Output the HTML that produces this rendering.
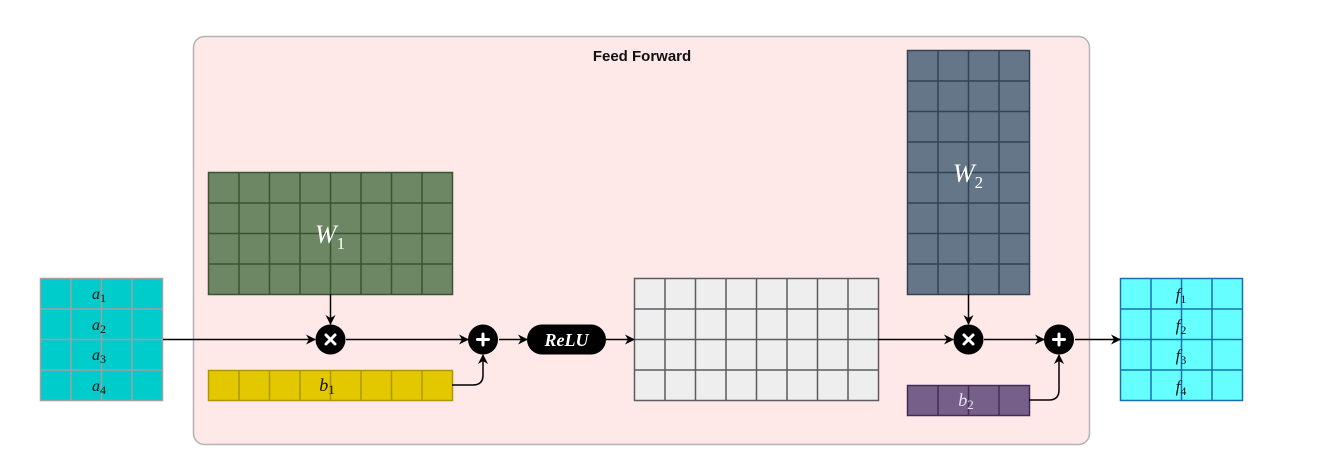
<!DOCTYPE html>
<html><head><meta charset="utf-8"><style>
html,body{margin:0;padding:0;background:#fff;}
svg{display:block;}
.m{font-family:"Liberation Serif",serif;font-style:italic;}
</style></head><body>
<svg width="1322" height="461" viewBox="0 0 1322 461" xmlns="http://www.w3.org/2000/svg">
<defs>
<marker id="ar" viewBox="0 0 10 10" refX="9" refY="5" markerWidth="10" markerHeight="10" orient="auto" markerUnits="userSpaceOnUse">
<path d="M0,0 L10,5 L0,10 L3,5 Z" fill="#000"/>
</marker>
</defs>
<rect x="193.5" y="36.5" width="896" height="408" rx="11" fill="#ffe8e8" stroke="#b3b3b3" stroke-width="1.5"/>
<text x="642" y="61" text-anchor="middle" font-family="Liberation Sans,sans-serif" font-weight="bold" font-size="15" fill="#111">Feed Forward</text>

<g stroke="#a0a0a0" stroke-width="1.5">
<rect x="40.5" y="278.5" width="122" height="122" fill="#00cccc"/>
<path d="M71,278V400M101.5,278V400M132,278V400M40,309H163M40,339.5H163M40,370H163" fill="none"/>
</g>
<g class="m" font-size="16" text-anchor="middle" fill="#111">
<text x="99" y="299">a<tspan font-style="normal" font-size="12" dy="3">1</tspan></text>
<text x="99" y="330">a<tspan font-style="normal" font-size="12" dy="3">2</tspan></text>
<text x="99" y="360">a<tspan font-style="normal" font-size="12" dy="3">3</tspan></text>
<text x="99" y="391">a<tspan font-style="normal" font-size="12" dy="3">4</tspan></text>
</g>

<g stroke="#3a5431" stroke-width="1.5" fill="none">
<rect x="208.5" y="172.5" width="244" height="122" fill="#6d8764"/>
<path d="M239,172V294M269.5,172V294M300,172V294M330.5,172V294M361,172V294M391.5,172V294M422,172V294M208,203H452M208,233.5H452M208,264H452"/>
</g>
<text x="330" y="243" class="m" font-size="26" fill="#fff" text-anchor="middle">W<tspan font-style="normal" font-size="17" dy="6">1</tspan></text>

<g stroke="#b09500" stroke-width="1.5" fill="none">
<rect x="208.5" y="370.5" width="244" height="30" fill="#e3c800"/>
<path d="M239,370V400M269.5,370V400M300,370V400M330.5,370V400M361,370V400M391.5,370V400M422,370V400"/>
</g>
<text x="327" y="391" class="m" font-size="18" fill="#111" text-anchor="middle">b<tspan font-style="normal" font-size="13" dy="3">1</tspan></text>

<g stroke="#5a5c60" stroke-width="1.5" fill="none">
<rect x="634.5" y="278.5" width="244" height="122" fill="#eeeeee"/>
<path d="M665,278V400M695.5,278V400M726,278V400M756.5,278V400M787,278V400M817.5,278V400M848,278V400M634,309H878M634,339.5H878M634,370H878"/>
</g>

<g stroke="#314354" stroke-width="1.5" fill="none">
<rect x="907.5" y="50.5" width="122" height="244" fill="#647687"/>
<path d="M938,50V294M968.5,50V294M999,50V294M907,81H1029M907,111.5H1029M907,142H1029M907,172.5H1029M907,203H1029M907,233.5H1029M907,264H1029"/>
</g>
<text x="968" y="182" class="m" font-size="26" fill="#fff" text-anchor="middle">W<tspan font-style="normal" font-size="17" dy="6">2</tspan></text>

<g stroke="#432d57" stroke-width="1.5" fill="none">
<rect x="907.5" y="385.5" width="122" height="30" fill="#76608a"/>
<path d="M938,385V415M968.5,385V415M999,385V415"/>
</g>
<text x="966" y="406" class="m" font-size="18" fill="#e8e0f0" text-anchor="middle">b<tspan font-style="normal" font-size="13" dy="3">2</tspan></text>

<g stroke="#1a6fb0" stroke-width="1.5" fill="none">
<rect x="1120.5" y="278.5" width="122" height="122" fill="#66ffff"/>
<path d="M1151,278V400M1181.5,278V400M1212,278V400M1120,309H1242M1120,339.5H1242M1120,370H1242"/>
</g>
<g class="m" font-size="17" text-anchor="middle" fill="#111">
<text x="1181" y="300">f<tspan font-style="normal" font-size="12" dy="3">1</tspan></text>
<text x="1181" y="331">f<tspan font-style="normal" font-size="12" dy="3">2</tspan></text>
<text x="1181" y="361">f<tspan font-style="normal" font-size="12" dy="3">3</tspan></text>
<text x="1181" y="392">f<tspan font-style="normal" font-size="12" dy="3">4</tspan></text>
</g>

<g stroke="#000" stroke-width="1.5" fill="none" marker-end="url(#ar)">
<path d="M163,339.5H315"/>
<path d="M346,339.5H468"/>
<path d="M499,339.5H527"/>
<path d="M606,339.5H634"/>
<path d="M878,339.5H953"/>
<path d="M984,339.5H1044"/>
<path d="M1075,339.5H1120"/>
<path d="M330.5,294V324"/>
<path d="M968.5,294V324"/>
<path d="M452,385H473Q483,385 483,375V355"/>
<path d="M1029,400H1049Q1059,400 1059,390V355"/>
</g>

<g fill="#000">
<circle cx="330.5" cy="339.5" r="15"/>
<circle cx="483" cy="339.5" r="15"/>
<circle cx="968.5" cy="339.5" r="15"/>
<circle cx="1059" cy="339.5" r="15"/>
<rect x="527" y="324.5" width="79" height="30" rx="15"/>
</g>
<g stroke="#fff" stroke-width="3" stroke-linecap="round">
<path d="M326,335L335,344M335,335L326,344"/>
<path d="M964,335L973,344M973,335L964,344"/>
<path d="M483,334V345M477.5,339.5H488.5"/>
<path d="M1059,334V345M1053.5,339.5H1064.5"/>
</g>
<text x="566.5" y="346" class="m" font-weight="bold" font-size="18" fill="#fff" text-anchor="middle">ReLU</text>
</svg>
</body></html>
